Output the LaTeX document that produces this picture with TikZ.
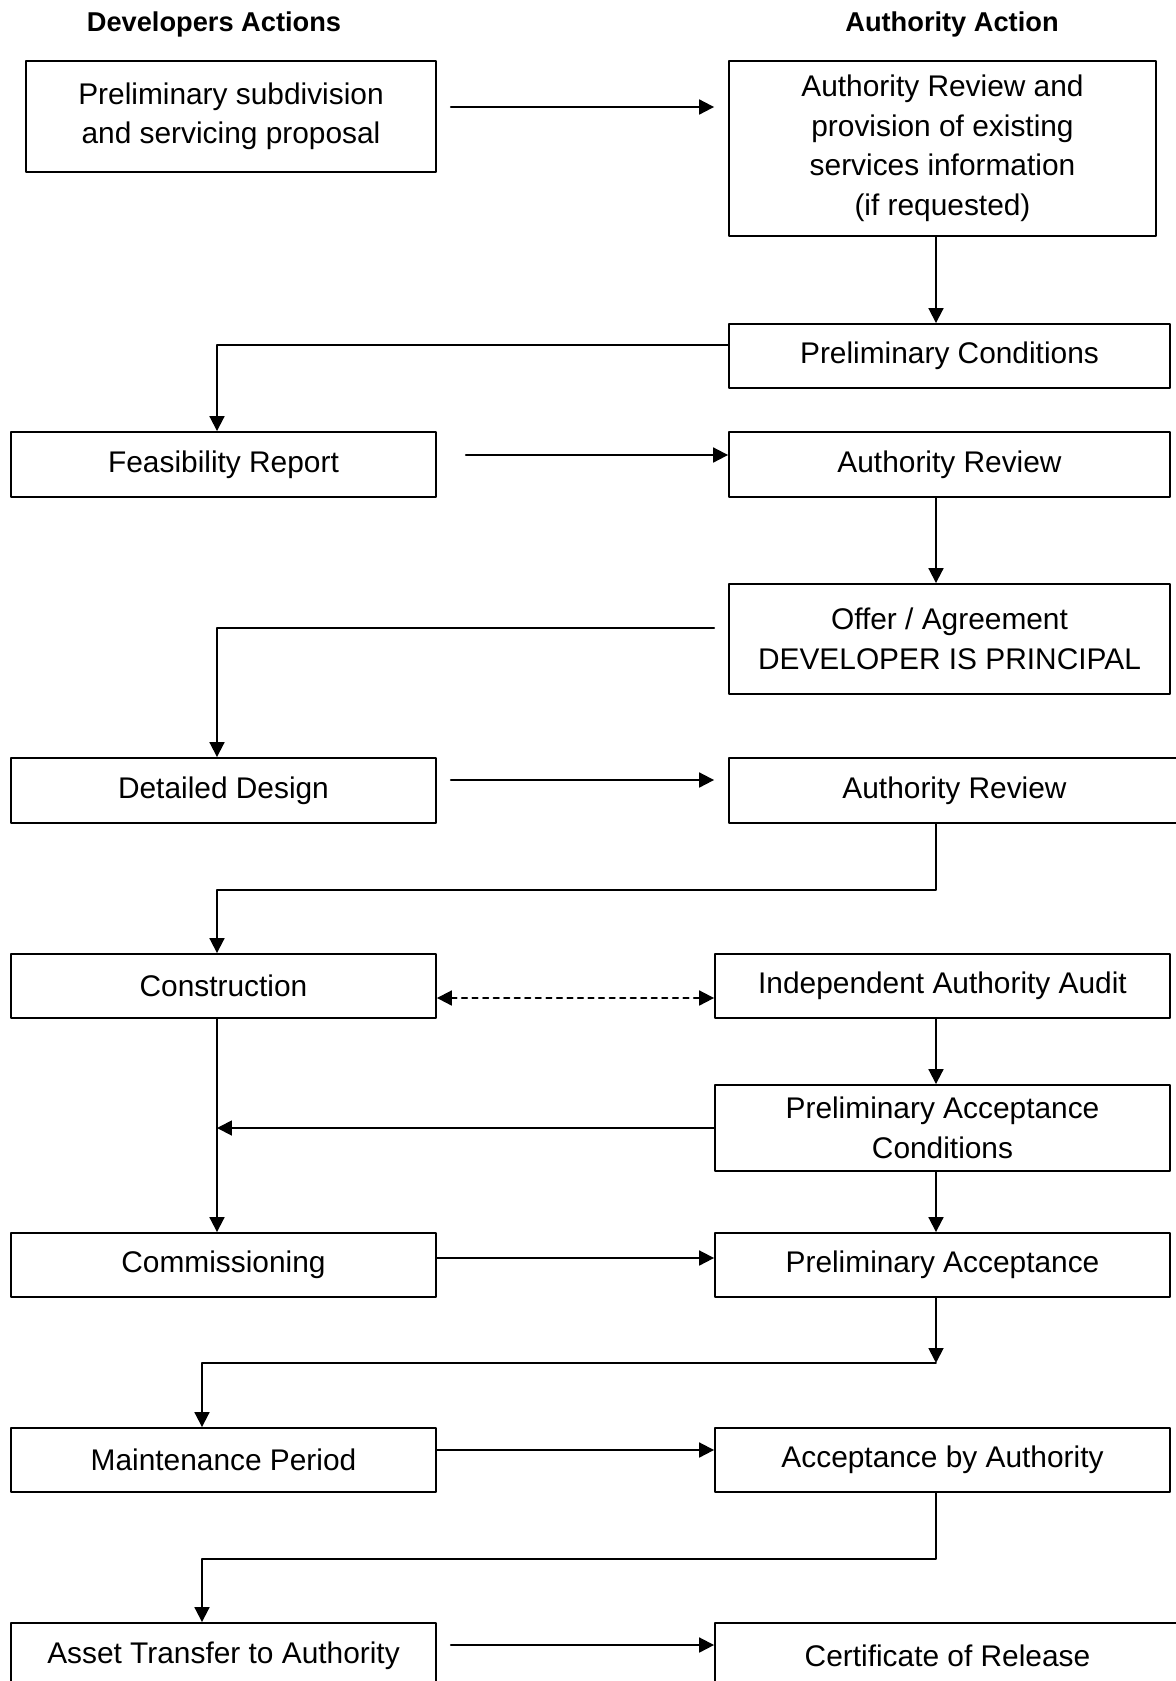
\documentclass[tikz,border=0pt]{standalone}
\usepackage{fontspec}
\setmainfont{Liberation Sans}
\usetikzlibrary{arrows.meta,calc}

\begin{document}
\begin{tikzpicture}[line cap=round,line join=round,>={Triangle[length=8.5pt,width=8.5pt]},x=0.02cm,y=-0.02cm,
		box/.style={draw,line width=1.1pt,align=center,inner sep=0pt,font=\fontsize{17}{22.5}\selectfont},
		head/.style={font=\fontsize{15.5}{18}\selectfont\bfseries},
		conn/.style={line width=1.1pt}]
		\clip(0,0) rectangle (1176,1681);
		% column headings
		\node[head] (dev) at (214,24) {Developers Actions};
		\node[head] (auth) at (952,24) {Authority Action};
		% developer side
		\node[box,minimum width=8.2cm,minimum height=2.22cm] (psp) at (231,116.5) {Preliminary subdivision\\and servicing proposal};
		\node[box,minimum width=8.5cm,minimum height=1.3cm] (fr) at (223.5,464.5) {Feasibility Report};
		\node[box,minimum width=8.5cm,minimum height=1.3cm] (dd) at (223.5,790.5) {Detailed Design};
		\node[box,minimum width=8.5cm,minimum height=1.28cm] (con) at (223.5,986) {Construction};
		\node[box,minimum width=8.5cm,minimum height=1.28cm] (com) at (223.5,1265) {Commissioning};
		\node[box,minimum width=8.5cm,minimum height=1.28cm] (mp) at (223.5,1460) {Maintenance Period};
		\node[box,minimum width=8.5cm,minimum height=1.32cm] (ata) at (223.5,1656) {Asset Transfer to Authority};
		% authority side
		\node[box,minimum width=8.54cm,minimum height=3.5cm] (arp) at (942.5,148.5) {Authority Review and\\provision of existing\\services information\\(if requested)};
		\node[box,minimum width=8.82cm,minimum height=1.28cm] (pc) at (949.5,356) {Preliminary Conditions};
		\node[box,minimum width=8.82cm,minimum height=1.3cm] (ar1) at (949.5,464.5) {Authority Review};
		\node[box,minimum width=8.82cm,minimum height=2.2cm] (oa) at (949.5,639) {Offer / Agreement\\DEVELOPER IS PRINCIPAL};
		\node[box,minimum width=9.02cm,minimum height=1.3cm] (ar2) at (954.5,790.5) {Authority Review};
		\node[box,minimum width=9.1cm,minimum height=1.28cm] (iaa) at (942.5,986) {Independent Authority Audit};
		\node[box,minimum width=9.1cm,minimum height=1.72cm] (pac) at (942.5,1128) {Preliminary Acceptance\\Conditions};
		\node[box,minimum width=9.1cm,minimum height=1.28cm] (pa) at (942.5,1265) {Preliminary Acceptance};
		\node[box,minimum width=9.1cm,minimum height=1.28cm] (aba) at (942.5,1460) {Acceptance by Authority};
		\node[box,minimum width=9.3cm,minimum height=1.32cm] (cr) at (947.5,1656) {Certificate of Release};
		% trunk lines
		\coordinate (lft) at (217,0);
		\coordinate (lft2) at (202,0);
		\coordinate (rgt) at (936,0);
		% connectors
		\draw[conn,->] ($(psp.east)+(14,-9.5)$) -- ($(arp.west |- psp.east)+(-14,-9.5)$);
		\draw[conn,->] (rgt |- arp.south) -- (rgt |- pc.north);
		\draw[conn,->] ($(pc.west)+(0,-11)$) -| (lft |- fr.north);
		\draw[conn,->] ($(fr.east)+(29,-9.5)$) -- ($(ar1.west |- fr.east)+(0,-9.5)$);
		\draw[conn,->] (rgt |- ar1.south) -- (rgt |- oa.north);
		\draw[conn,->] ($(oa.west)+(-14,-11)$) -| (lft |- dd.north);
		\draw[conn,->] ($(dd.east)+(14,-10.5)$) -- ($(ar2.west |- dd.east)+(-14,-10.5)$);
		\draw[conn,->] (rgt |- ar2.south) -- ++(0,66) -| (lft |- con.north);
		\draw[conn,<->,dashed] ($(con.east)+(0,12)$) -- ($(iaa.west |- con.east)+(0,12)$);
		\draw[conn,->] (rgt |- iaa.south) -- (rgt |- pac.north);
		\draw[conn,->] (pac.west) -- (lft |- pac.west);
		\draw[conn,->] (lft |- con.south) -- (lft |- com.north);
		\draw[conn,->] ($(com.east)+(0,-7)$) -- ($(pa.west |- com.east)+(0,-7)$);
		\draw[conn,->] (rgt |- pac.south) -- (rgt |- pa.north);
		\draw[conn,->] (rgt |- pa.south) -- ++(0,65) coordinate (k1);
		\draw[conn,->] (k1) -| (lft2 |- mp.north);
		\draw[conn,->] ($(mp.east)+(0,-10)$) -- ($(aba.west |- mp.east)+(0,-10)$);
		\draw[conn,->] (rgt |- aba.south) -- ++(0,66) -| (lft2 |- ata.north);
		\draw[conn,->] ($(ata.east)+(14,-11)$) -- ($(cr.west |- ata.east)+(0,-11)$);
	\end{tikzpicture}
\end{document}
